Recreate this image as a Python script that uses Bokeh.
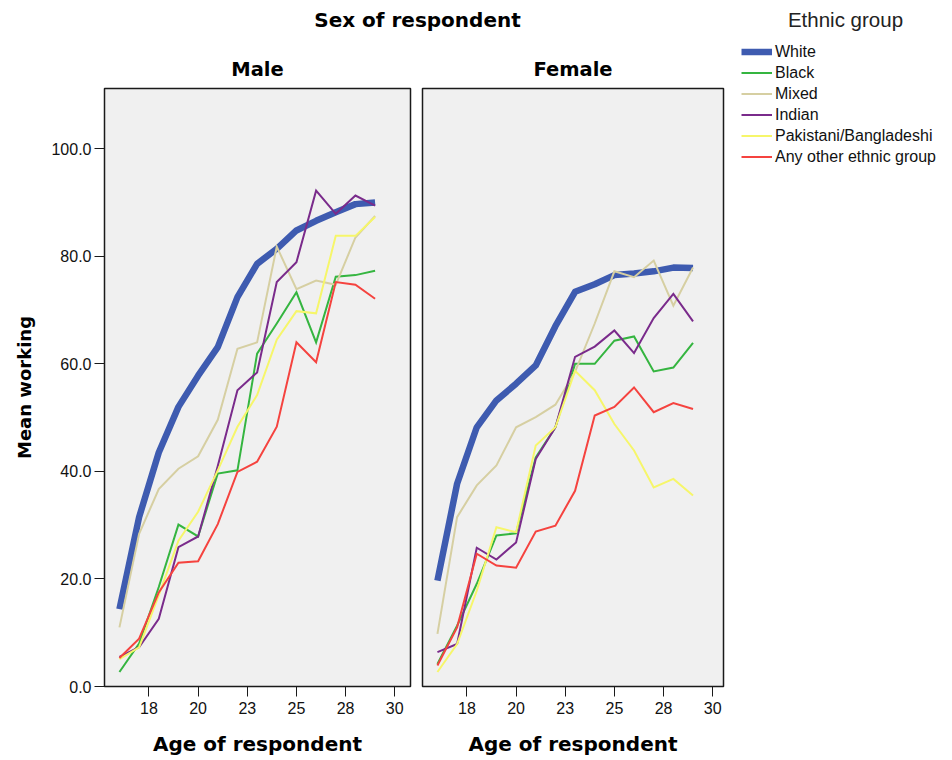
from bokeh.plotting import figure
from bokeh.layouts import column, row
from bokeh.models import FixedTicker, Range1d, Legend, LegendItem, Label, Title
from bokeh.embed import file_html
from bokeh.resources import INLINE

# ---------------- data ----------------
ages = list(range(16, 30))
groups = ["White", "Black", "Mixed", "Indian", "Pakistani/Bangladeshi", "Any other ethnic group"]

male_white = [14.4, 31.5, 43.5, 52.0, 57.8, 63.1, 72.4, 78.6, 81.4, 84.8, 86.6, 88.2, 89.7, 90.0]
male_black = [2.7, 8.0, 18.5, 30.1, 27.9, 39.6, 40.2, 61.9, 67.5, 73.3, 64.0, 76.2, 76.5, 77.3]
male_mixed = [11.0, 28.4, 36.7, 40.5, 42.8, 49.6, 62.8, 64.0, 81.8, 73.9, 75.5, 74.7, 83.5, 87.5]
male_indian = [5.5, 7.3, 12.6, 25.9, 27.9, 41.0, 55.1, 58.4, 75.2, 78.9, 92.2, 87.9, 91.3, 89.4]
male_pakbang = [5.1, 7.3, 17.0, 27.1, 32.5, 40.2, 48.3, 54.2, 64.5, 69.8, 69.4, 83.8, 83.8, 87.3]
male_other = [5.3, 8.9, 17.5, 23.0, 23.3, 30.2, 39.9, 41.8, 48.3, 64.0, 60.3, 75.2, 74.7, 72.1]

female_white = [19.7, 37.7, 48.2, 53.2, 56.3, 59.7, 67.0, 73.4, 74.8, 76.5, 76.8, 77.2, 77.9, 77.8]
female_black = [4.2, 11.3, 19.1, 28.1, 28.5, 42.6, 48.2, 60.0, 60.0, 64.3, 65.1, 58.6, 59.3, 63.9]
female_mixed = [9.8, 31.5, 37.4, 41.1, 48.2, 50.1, 52.4, 58.5, 67.5, 77.2, 76.1, 79.2, 70.8, 77.9]
female_indian = [6.4, 7.9, 25.8, 23.6, 26.8, 42.3, 48.2, 61.3, 63.2, 66.2, 62.0, 68.5, 73.0, 67.9]
female_pakbang = [2.7, 7.9, 17.8, 29.6, 28.7, 44.8, 48.2, 58.7, 55.1, 48.8, 43.9, 37.0, 38.6, 35.5]
female_other = [3.9, 11.0, 24.7, 22.5, 22.1, 28.8, 29.9, 36.4, 50.4, 52.0, 55.6, 51.0, 52.7, 51.6]

x_ticks = [17.5, 20, 22.5, 25, 27.5, 30]
x_tick_labels = ["18", "20", "23", "25", "28", "30"]
y_ticks = [0, 20, 40, 60, 80, 100]
y_tick_labels = ["0.0", "20.0", "40.0", "60.0", "80.0", "100.0"]

# ---------------- styles ----------------
colors = ["#3e5bb0", "#35b540", "#d6cfa2", "#7a2b8b", "#f6f66a", "#f5433f"]
widths = [6.5, 2, 2, 2, 2, 2]

BOLD = "DejaVu Sans"
REG = "Liberation Sans"
PANEL_BG = "#f0f0f0"
HEAD_H = 42
ROW_H = 716


def make_panel(title, series, xr, width, left, right, show_y):
    p = figure(width=width, height=ROW_H, output_backend="svg", toolbar_location=None,
               x_range=xr, y_range=Range1d(0, 111.2),
               min_border_left=left, min_border_right=right,
               min_border_top=46, min_border_bottom=ROW_H - 46 - 598,
               y_axis_location="left" if show_y else None)
    p.title = Title(text=title, align="center", text_font=BOLD, text_font_style="bold",
                    text_font_size="19.5px", text_color="#000000", standoff=15)
    p.background_fill_color = PANEL_BG
    p.border_fill_color = "white"
    p.outline_line_color = "#1a1a1a"
    p.outline_line_width = 1.5
    p.grid.visible = False

    xa = p.xaxis[0]
    xa.ticker = FixedTicker(ticks=x_ticks)
    xa.major_label_overrides = {t: l for t, l in zip(x_ticks, x_tick_labels)}
    xa.minor_tick_line_color = None
    xa.major_tick_in = 0
    xa.major_tick_out = 10
    xa.major_tick_line_color = "#1a1a1a"
    xa.axis_line_color = "#1a1a1a"
    xa.major_label_text_font = REG
    xa.major_label_text_font_size = "16px"
    xa.major_label_text_color = "#111111"
    xa.major_label_standoff = 5
    xa.axis_label = "Age of respondent"
    xa.axis_label_text_font = BOLD
    xa.axis_label_text_font_style = "bold"
    xa.axis_label_text_font_size = "20px"
    xa.axis_label_text_color = "#000000"
    xa.axis_label_standoff = 15

    if show_y:
        ya = p.yaxis[0]
        ya.ticker = FixedTicker(ticks=y_ticks)
        ya.major_label_overrides = {t: l for t, l in zip(y_ticks, y_tick_labels)}
        ya.minor_tick_line_color = None
        ya.major_tick_in = 0
        ya.major_tick_out = 10
        ya.major_tick_line_color = "#1a1a1a"
        ya.axis_line_color = "#1a1a1a"
        ya.major_label_text_font = REG
        ya.major_label_text_font_size = "16px"
        ya.major_label_text_color = "#111111"
        ya.major_label_standoff = 3
        ya.axis_label = "Mean working"
        ya.axis_label_text_font = BOLD
        ya.axis_label_text_font_style = "bold"
        ya.axis_label_text_font_size = "18px"
        ya.axis_label_text_color = "#000000"
        ya.axis_label_standoff = 13

    for vals, c, w in zip(series, colors, widths):
        p.line(ages, vals, line_color=c, line_width=w,
               line_join="round" if w > 3 else "miter")
    return p


female_series = [female_white, female_black, female_mixed, female_indian, female_pakbang, female_other]
p1 = make_panel("Male",
                [male_white, male_black, male_mixed, male_indian, male_pakbang, male_other],
                Range1d(15.24, 30.8), 416, 104, 6, True)
p2 = make_panel("Female", female_series, Range1d(15.24, 30.55), 311, 6, 4, False)

# header figure (overall title)
header = figure(width=727, height=HEAD_H, output_backend="svg", toolbar_location=None,
                x_range=Range1d(0, 1), y_range=Range1d(0, 1),
                min_border=0, x_axis_location=None, y_axis_location=None)
header.outline_line_color = None
header.grid.visible = False
header.add_layout(Label(x=417, y=22.5, x_units="screen", y_units="screen",
                        text="Sex of respondent", text_align="center", text_baseline="middle",
                        text_font=BOLD, text_font_style="bold", text_font_size="20px",
                        text_color="#000000"))

# legend figure (full height, right side)
LEG_H = HEAD_H + ROW_H
p3 = figure(width=217, height=LEG_H, output_backend="svg", toolbar_location=None,
            x_range=Range1d(0, 1), y_range=Range1d(0, 1),
            min_border=0, x_axis_location=None, y_axis_location=None)
p3.outline_line_color = None
p3.grid.visible = False
p3.background_fill_color = "white"
p3.border_fill_color = "white"
items = []
for g, vals, c, w in zip(groups, female_series, colors, widths):
    # same series, outside this legend figure's visible range: only its legend glyph shows
    r = p3.line(ages, vals, line_color=c, line_width=w)
    items.append(LegendItem(label=g, renderers=[r]))
n = len(groups)
leg = Legend(items=items, location=(14, LEG_H - 41 - 21 * n),
             margin=0, padding=0, spacing=0,
             label_height=21, glyph_height=21, glyph_width=31, label_standoff=3,
             label_text_font=REG, label_text_font_size="16px", label_text_color="#111111",
             background_fill_alpha=0, border_line_color=None)
p3.add_layout(leg)
p3.add_layout(Label(x=118, y=LEG_H - 19, x_units="screen", y_units="screen",
                    text="Ethnic group", text_align="center", text_baseline="middle",
                    text_font=REG, text_font_size="20.5px", text_color="#222222"))

layout = row(column(header, row(p1, p2, spacing=0), spacing=0), p3, spacing=0)

open("out.html", "w").write(file_html(layout, INLINE))
